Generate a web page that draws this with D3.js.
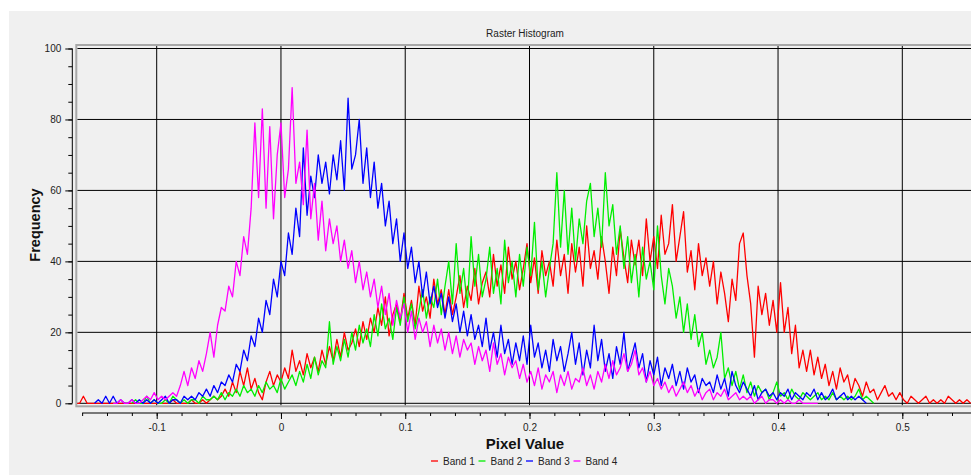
<!DOCTYPE html>
<html>
<head>
<meta charset="utf-8">
<script src="https://cdn.jsdelivr.net/npm/d3@7"></script>
<style>
body { margin: 0; background: #fff; }
svg text { font-family: "Liberation Sans", Arial, sans-serif; }
</style>
</head>
<body>
<svg id="chart" width="971" height="475"></svg>
<script>
// histogram bins: centre of first bin and bin width, in pixel value units
var binStart = -0.165;
var binStep = 0.003;

// frequencies, one value per bin (null = outside band range)
var band1 = [
  0,0,2,0,0,0,0,0,0,0,
  0,0,0,0,0,0,0,0,0,0,
  0,0,0,0,0,0,1,0,0,0,
  0,1,0,0,1,0,1,2,1,2,
  4,2,6,3,9,5,10,4,7,3,
  1,6,9,5,8,6,10,7,15,9,
  12,8,14,10,13,9,15,11,16,12,
  18,13,20,15,17,21,16,23,18,24,
  20,27,22,30,19,25,28,23,31,24,
  29,22,33,26,30,24,35,28,32,25,
  32,25,30,36,27,33,29,38,28,34,
  37,30,42,33,39,31,44,35,40,32,
  38,45,34,41,31,43,36,40,33,46,
  36,42,31,45,37,44,33,50,38,43,
  35,47,40,31,44,36,49,41,34,46,
  39,46,36,52,40,47,38,53,42,45,
  56,40,47,54,37,43,32,45,36,41,
  33,40,28,37,31,23,35,29,45,48,
  36,28,13,33,25,31,22,29,20,34,
  20,27,14,22,10,15,9,15,8,13,
  7,11,5,9,4,10,6,8,3,7,
  5,2,6,3,4,1,3,5,2,3,
  1,3,1,0,2,1,0,1,2,0,
  1,0,1,0,2,1,0,1,0,1,
  0
];
var band2 = [
  null,null,null,null,null,null,null,null,null,null,
  null,null,null,null,null,0,1,0,0,2,
  0,1,0,0,1,0,2,1,0,1,
  0,1,1,0,2,1,1,2,1,3,
  1,3,2,4,2,5,3,4,2,5,
  3,6,4,5,3,7,4,6,8,5,
  9,6,11,7,13,8,12,10,23,11,
  16,12,18,13,20,15,22,17,21,16,
  25,19,28,21,24,18,27,22,30,23,
  28,21,26,32,24,30,27,35,25,33,
  40,28,45,31,38,27,47,33,42,30,
  35,44,31,38,28,46,34,40,30,42,
  33,44,36,51,32,40,30,38,45,65,
  44,60,42,55,40,52,45,57,62,47,
  55,44,65,50,56,42,50,38,47,34,
  42,30,44,35,40,32,50,36,28,38,
  33,24,30,20,28,18,25,16,20,11,
  15,10,13,20,7,10,5,9,4,8,
  3,6,2,5,3,4,1,3,6,2,
  3,1,4,2,1,3,2,1,2,3,
  1,2,1,3,1,2,1,2,1,2,
  4,1,2,1,0,null,null,null,null,null,
  null,null,null,null,null,null,null,null,null,null,
  null,null,null,null,null,null,null,null,null,null,
  null
];
var band3 = [
  null,null,null,null,null,0,1,0,2,0,
  2,0,1,0,0,1,0,1,0,1,
  0,1,0,1,2,0,1,1,0,2,
  1,2,1,3,2,4,2,5,3,6,
  5,8,6,11,9,15,12,19,16,24,
  20,29,25,35,30,40,36,48,42,55,
  47,72,53,64,58,70,62,68,59,70,
  63,74,60,86,66,70,80,62,72,58,
  68,55,62,50,57,45,52,40,48,38,
  44,34,40,30,37,28,33,27,31,24,
  30,23,28,20,26,19,25,18,22,16,
  24,15,20,13,22,14,18,11,17,12,
  19,11,22,13,17,10,15,9,18,12,
  16,9,14,20,11,17,8,15,10,22,
  12,18,9,14,7,16,11,20,9,13,
  17,10,14,6,12,8,13,5,10,7,
  11,5,9,4,10,6,8,3,7,5,
  6,3,8,4,7,2,9,5,3,6,
  4,2,5,1,3,4,2,3,1,3,
  2,4,1,3,2,1,3,2,4,1,
  3,1,2,4,1,2,3,1,2,1,
  2,1,0,null,null,null,null,null,null,null,
  null,null,null,null,null,null,null,null,null,null,
  null,null,null,null,null,null,null,null,null,null,
  null
];
var band4 = [
  null,null,null,null,null,null,null,null,null,null,
  0,0,1,0,0,1,0,0,1,2,
  1,3,1,2,1,2,3,2,5,9,
  5,10,7,12,9,14,20,13,22,27,
  26,33,30,40,36,47,42,55,79,58,
  83,55,78,52,70,79,58,66,89,62,
  68,56,77,52,62,46,57,43,52,45,
  50,40,46,38,43,34,40,32,37,30,
  35,27,33,25,31,22,29,24,28,20,
  26,18,24,20,23,16,22,17,21,15,
  20,14,19,13,18,15,17,11,16,12,
  15,9,17,11,14,8,13,10,12,7,
  11,6,9,5,10,4,8,6,9,3,
  8,5,9,4,7,6,10,5,8,4,
  9,6,11,7,12,8,10,14,9,11,
  15,8,10,6,9,5,7,4,6,3,
  5,2,4,6,3,5,2,4,1,3,
  4,1,3,2,4,1,2,3,1,2,
  1,2,0,1,2,0,1,1,0,1,
  0,1,0,0,1,0,0,0,0,0,
  null,null,null,null,null,null,null,null,null,null,
  null,null,null,null,null,null,null,null,null,null,
  null,null,null,null,null,null,null,null,null,null,
  null,null,null,null,null,null,null,null,null,null,
  null
];

var bandNames = ['Band 1', 'Band 2', 'Band 3', 'Band 4'];
var bandColors = ['#ff0000', '#00ee00', '#0000ff', '#ff00ff'];
var xTicks = [-0.1, 0, 0.1, 0.2, 0.3, 0.4, 0.5];
var xTickLabels = ['-0.1', '0', '0.1', '0.2', '0.3', '0.4', '0.5'];
var yTicks = [0, 20, 40, 60, 80, 100];
var yTickLabels = ['0', '20', '40', '60', '80', '100'];

var bands = [band1, band2, band3, band4];

var svg = d3.select('#chart');
var width = +svg.attr('width');

var x = d3.scaleLinear().domain([-0.1, 0.5]).range([156.7, 902.3]);
var y = d3.scaleLinear().domain([0, 100]).range([403.3, 48.5]);

// window panel
svg.append('rect')
    .attr('x', 9).attr('y', 11)
    .attr('width', width - 9).attr('height', 475 - 11)
    .style('fill', '#f0f0f0');

// canvas clip
svg.append('clipPath').attr('id', 'canvas')
  .append('rect')
    .attr('x', 77.3).attr('y', 46)
    .attr('width', width - 77.3).attr('height', 359.5);

var grid = svg.append('g').attr('clip-path', 'url(#canvas)');
grid.selectAll('line.vg').data(xTicks)
    .enter().append('line')
        .attr('class', 'vg')
        .attr('x1', function(d){ return x(d); })
        .attr('x2', function(d){ return x(d); })
        .attr('y1', 46).attr('y2', 406)
        .style('stroke', '#000').style('stroke-width', 1);
grid.selectAll('line.hg').data(yTicks)
    .enter().append('line')
        .attr('class', 'hg')
        .attr('x1', 77).attr('x2', width)
        .attr('y1', function(d){ return y(d); })
        .attr('y2', function(d){ return y(d); })
        .style('stroke', '#000').style('stroke-width', 1);

// canvas frame
svg.append('rect')
    .attr('x', 76.3).attr('y', 45)
    .attr('width', width).attr('height', 361.3)
    .style('fill', 'none')
    .style('stroke', '#a8a8a8')
    .style('stroke-width', 2);

// histogram curves
var line = d3.line()
    .defined(function(d){ return d != null; })
    .x(function(d, i){ return x(binStart + i * binStep); })
    .y(function(d){ return y(d); });

svg.append('g').attr('clip-path', 'url(#canvas)')
    .selectAll('path').data(bands)
    .enter().append('path')
        .attr('d', line)
        .style('fill', 'none')
        .style('stroke', function(d, i){ return bandColors[i]; })
        .style('stroke-width', 1.3)
        .style('stroke-linejoin', 'round');

// x axis
var xAxisG = svg.append('g').attr('transform', 'translate(0,413)');
xAxisG.append('line')
    .attr('x1', x(-0.16)).attr('x2', width)
    .style('stroke', '#000');
xAxisG.append('g')
    .call(d3.axisBottom(x).tickValues(d3.range(-8, 28).map(function(k){ return k * 0.02; }))
        .tickSize(3).tickFormat(''))
    .call(function(g){ g.select('.domain').remove(); });
xAxisG.append('g')
    .call(d3.axisBottom(x).tickValues(xTicks)
        .tickFormat(function(d, i){ return xTickLabels[i]; })
        .tickSize(6).tickPadding(5))
    .call(function(g){ g.select('.domain').remove(); });

// y axis
var yAxisG = svg.append('g').attr('transform', 'translate(72.3,0)');
yAxisG.append('line')
    .attr('y1', y(100)).attr('y2', y(0))
    .style('stroke', '#000');
yAxisG.append('g')
    .call(d3.axisLeft(y).tickValues(d3.range(0, 101, 5)).tickSize(4).tickFormat(''))
    .call(function(g){ g.select('.domain').remove(); });
yAxisG.append('g')
    .call(d3.axisLeft(y).tickValues(yTicks)
        .tickFormat(function(d, i){ return yTickLabels[i]; })
        .tickSize(7).tickPadding(4))
    .call(function(g){ g.select('.domain').remove(); });

svg.selectAll('.tick line').style('stroke', '#000');
svg.selectAll('.tick text')
    .style('font-family', '"Liberation Sans", Arial, sans-serif')
    .style('font-size', '10px')
    .style('fill', '#222');

// titles
svg.append('text')
    .attr('x', 525).attr('y', 36.7)
    .attr('text-anchor', 'middle')
    .style('font-size', '10px').style('fill', '#222')
    .text('Raster Histogram');

svg.append('text')
    .attr('x', 525).attr('y', 448.5)
    .attr('text-anchor', 'middle')
    .style('font-size', '15px').style('font-weight', 'bold').style('fill', '#111')
    .text('Pixel Value');

svg.append('text')
    .attr('transform', 'translate(40,225) rotate(-90)')
    .attr('text-anchor', 'middle')
    .style('font-size', '14.5px').style('font-weight', 'bold').style('fill', '#111')
    .text('Frequency');

// legend
var legend = svg.append('g').attr('transform', 'translate(431,461)')
    .selectAll('g').data(bandNames)
    .enter().append('g')
        .attr('transform', function(d, i){ return 'translate(' + (i * 47.5) + ',0)'; });
legend.append('line')
    .attr('x1', 0).attr('x2', 7)
    .style('stroke', function(d, i){ return bandColors[i]; })
    .style('stroke-width', 1.3);
legend.append('text')
    .attr('x', 12).attr('y', 3.6)
    .style('font-size', '10px').style('fill', '#222')
    .text(function(d){ return d; });
</script>
</body>
</html>
